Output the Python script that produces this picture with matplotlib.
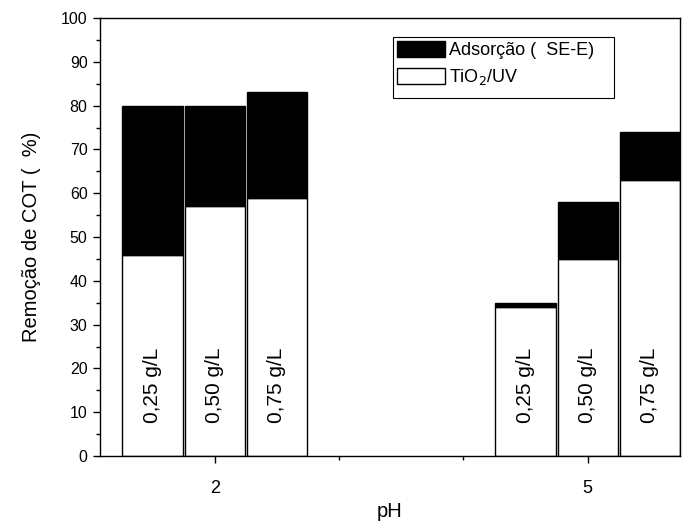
import matplotlib
matplotlib.use("Agg")
import matplotlib.pyplot as plt
from matplotlib.patches import Patch, Rectangle

plt.rcParams['font.family'] = ['Liberation Sans', 'DejaVu Sans']

groups = ["2", "5"]
doses = ["0,25 g/L", "0,50 g/L", "0,75 g/L"]
tio2_uv = [46, 57, 59, 34, 45, 63]
total = [80, 80, 83, 35, 58, 74]
adsorcao = [t - w for t, w in zip(total, tio2_uv)]
positions = [-1, 0, 1, 5, 6, 7]
labels = doses + doses

W, H = 692, 526
fig = plt.figure(figsize=(W / 100, H / 100), dpi=100)
L, R, T, B = 100, 680, 18, 456
ax = fig.add_axes([L / W, 1 - B / H, (R - L) / W, (B - T) / H])

bw = 0.97
ax.bar(positions, tio2_uv, width=bw, color='white', edgecolor='black', linewidth=1.0)
ax.bar(positions, adsorcao, bottom=tio2_uv, width=bw, color='black', edgecolor='black', linewidth=1.0)

for x, lab in zip(positions, labels):
    ax.text(x, 16.1, lab, rotation=90, ha='center', va='center', fontsize=15)

ax.set_xlim(-1.846, 7.485)
ax.set_ylim(0, 100)
ax.set_yticks(range(0, 101, 10))
ax.set_yticks(range(5, 100, 10), minor=True)
ax.set_xticks([0, 6])
ax.set_xticklabels(groups)
ax.set_xticks([2, 4], minor=True)
ax.tick_params(axis='both', which='major', direction='out', length=5, width=1, labelsize=11.5, pad=4)
ax.tick_params(axis='both', which='minor', direction='out', length=3, width=1)
ax.tick_params(axis='x', which='major', pad=12, labelsize=13)
for s in ax.spines.values():
    s.set_linewidth(1.0)

ax.set_xlabel('pH', fontsize=14.5, labelpad=4)
ax.set_ylabel('Remoção de COT (  %)', fontsize=14.5, labelpad=14)

handles = [Patch(facecolor='black', edgecolor='black', label='Adsorção (  SE-E)'),
           Patch(facecolor='white', edgecolor='black', label='TiO$_2$/UV')]
leg = ax.legend(handles=handles, loc='upper left', bbox_to_anchor=(0.512, 0.947),
                fontsize=13, frameon=False, handlelength=2.65,
                handleheight=0.95, borderpad=0, labelspacing=0.45, handletextpad=0.25,
                borderaxespad=0)
frame = Rectangle((0.505, 0.8174), 0.886 - 0.505, 0.9566 - 0.8174, transform=ax.transAxes,
                  facecolor='white', edgecolor='black', linewidth=0.8, zorder=4)
ax.add_patch(frame)
leg.set_zorder(5)

fig.savefig('out.png', dpi=100)
